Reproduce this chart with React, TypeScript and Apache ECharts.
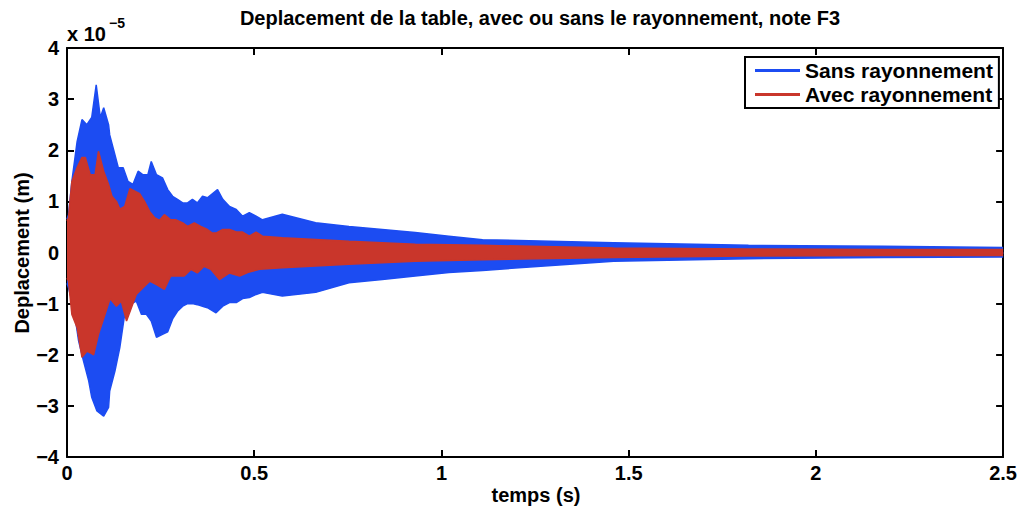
import React, { useEffect, useRef } from "react";
import * as echarts from "echarts";

// Values in units of 1e-5 m, envelopes
const tBlueUp = [0.000,0.004,0.013,0.027,0.040,0.053,0.066,0.078,0.089,0.098,0.111,0.114,0.123,0.137,0.150,0.163,0.176,0.190,0.203,0.216,0.225,0.239,0.255,0.269,0.282,0.295,0.309,0.322,0.335,0.348,0.362,0.375,0.402,0.416,0.434,0.452,0.469,0.487,0.505,0.522,0.575,0.664,0.753,0.842,0.930,1.020,1.110,1.460,1.820,2.180,2.500];
const blueUp = [0.65,0.74,1.39,2.17,2.60,2.50,2.64,3.28,2.64,2.83,2.50,2.30,2.05,1.66,1.66,1.39,1.33,1.59,1.52,1.52,1.78,1.52,1.46,1.23,1.10,1.04,0.97,0.97,1.04,0.97,1.10,1.07,1.23,1.04,0.90,0.84,0.71,0.78,0.71,0.64,0.75,0.58,0.51,0.45,0.39,0.32,0.25,0.19,0.14,0.12,0.10];

const tBlueLow = [0.000,0.004,0.018,0.031,0.044,0.058,0.066,0.080,0.098,0.111,0.114,0.128,0.141,0.154,0.168,0.185,0.199,0.212,0.225,0.239,0.255,0.269,0.282,0.295,0.309,0.322,0.335,0.348,0.362,0.375,0.398,0.416,0.434,0.452,0.469,0.487,0.505,0.522,0.575,0.664,0.753,0.842,0.930,1.020,1.110,1.460,1.820,2.180,2.500];
const blueLow = [-0.60,-0.69,-1.08,-1.73,-2.12,-2.51,-2.83,-3.10,-3.20,-3.03,-2.71,-2.32,-1.86,-1.21,-1.02,-0.95,-1.21,-1.21,-1.34,-1.66,-1.60,-1.55,-1.30,-1.15,-1.05,-1.00,-1.00,-1.02,-1.05,-1.08,-1.18,-1.05,-0.98,-0.98,-0.90,-0.88,-0.82,-0.78,-0.85,-0.78,-0.59,-0.53,-0.46,-0.39,-0.35,-0.17,-0.12,-0.10,-0.09];

const tRedUp = [0.000,0.004,0.013,0.027,0.040,0.049,0.062,0.075,0.084,0.098,0.111,0.120,0.132,0.141,0.154,0.168,0.181,0.194,0.207,0.221,0.234,0.247,0.260,0.277,0.290,0.309,0.322,0.340,0.357,0.375,0.388,0.398,0.416,0.434,0.452,0.469,0.487,0.505,0.522,0.575,0.753,0.930,1.110,1.460,1.820,2.180,2.500];
const redUp = [0.62,0.68,1.39,1.66,1.86,1.86,1.52,1.52,1.98,1.59,1.33,1.10,1.00,0.85,0.90,1.25,1.20,1.15,1.00,0.80,0.68,0.63,0.74,0.64,0.64,0.58,0.51,0.58,0.51,0.45,0.38,0.38,0.45,0.45,0.40,0.40,0.32,0.40,0.32,0.29,0.22,0.16,0.14,0.09,0.07,0.06,0.06];

const tRedLow = [0.000,0.004,0.013,0.027,0.040,0.053,0.062,0.071,0.084,0.102,0.115,0.132,0.145,0.159,0.172,0.185,0.203,0.221,0.239,0.260,0.277,0.295,0.313,0.331,0.348,0.366,0.384,0.407,0.434,0.461,0.487,0.514,0.575,0.753,0.930,1.110,1.460,1.820,2.180,2.500];
const redLow = [-0.50,-0.56,-1.21,-1.47,-2.05,-1.93,-1.96,-2.00,-1.60,-1.20,-0.90,-1.05,-0.95,-1.34,-1.08,-0.82,-0.69,-0.56,-0.63,-0.72,-0.46,-0.46,-0.46,-0.33,-0.40,-0.27,-0.33,-0.53,-0.40,-0.46,-0.38,-0.33,-0.30,-0.23,-0.17,-0.14,-0.10,-0.07,-0.06,-0.06];

const seriesNames = ["Sans rayonnement", "Avec rayonnement"];

const BLUE = "#1c4cf2";
const RED = "#c9362b";
const FONT = "Liberation Sans, Arial, Helvetica, sans-serif";

const zip = (t: number[], v: number[]) => t.map((x, i) => [x, v[i]]);

export default function App() {
  const ref = useRef<HTMLDivElement>(null);
  useEffect(() => {
    document.body.style.margin = "0";
    const chart = echarts.init(ref.current!, null, { renderer: "svg" });
    const band = (name: string, data: number[][], color: string, z: number) => ({
      name,
      type: "line",
      data,
      showSymbol: false,
      symbol: "none",
      z,
      lineStyle: { color, width: 1.5 },
      itemStyle: { color },
      areaStyle: { color, opacity: 1 },
      markLine: {
        silent: true,
        symbol: "none",
        label: { show: false },
        lineStyle: { color, width: 2, type: "solid" },
        data: [{ yAxis: 0 }],
      },
    });
    const axisCommon = {
      axisLine: { show: true, onZero: false, lineStyle: { color: "#000", width: 2 } },
      axisTick: { show: true, inside: true, length: 7, lineStyle: { color: "#000", width: 2 } },
      splitLine: { show: false },
    };
    const labelStyle = { color: "#000", fontFamily: FONT, fontWeight: "bold", fontSize: 20 };
    chart.setOption({
      animation: false,
      backgroundColor: "#fff",
      grid: { left: 67, right: 15, top: 48, bottom: 53, containLabel: false },
      xAxis: [
        {
          type: "value", min: 0, max: 2.5, interval: 0.5, position: "bottom",
          ...axisCommon,
          axisLabel: { ...labelStyle, margin: 6 },
        },
        {
          type: "value", min: 0, max: 2.5, interval: 0.5, position: "top",
          ...axisCommon,
          axisLabel: { show: false },
        },
      ],
      yAxis: [
        {
          type: "value", min: -4, max: 4, interval: 1, position: "left",
          ...axisCommon,
          axisLabel: {
            ...labelStyle, margin: 8,
            formatter: (v: number) => String(v).replace("-", "\u2212"),
          },
        },
        {
          type: "value", min: -4, max: 4, interval: 1, position: "right",
          ...axisCommon,
          axisLabel: { show: false },
        },
      ],
      legend: {
        data: seriesNames,
        orient: "vertical",
        left: 745,
        top: 57,
        padding: [3, 6, 3, 10],
        itemGap: 3,
        itemWidth: 45,
        itemHeight: 3,
        icon: "rect",
        backgroundColor: "#fff",
        borderColor: "#000",
        borderWidth: 2,
        textStyle: { color: "#000", fontFamily: FONT, fontWeight: "bold", fontSize: 21 },
      },
      series: [
        band(seriesNames[0], zip(tBlueUp, blueUp), BLUE, 2),
        band(seriesNames[0], zip(tBlueLow, blueLow), BLUE, 2),
        band(seriesNames[1], zip(tRedUp, redUp), RED, 3),
        band(seriesNames[1], zip(tRedLow, redLow), RED, 3),
      ],
      graphic: [
        {
          type: "text", x: 540, y: 18,
          style: {
            text: "Deplacement de la table, avec ou sans le rayonnement, note F3",
            fill: "#000", font: `bold 20px ${FONT}`, textAlign: "center", textVerticalAlign: "middle",
          },
        },
        {
          type: "text", x: 22, y: 253, rotation: Math.PI / 2,
          style: {
            text: "Deplacement (m)", fill: "#000", font: `bold 20px ${FONT}`,
            textAlign: "center", textVerticalAlign: "middle",
          },
        },
        {
          type: "text", x: 536, y: 495,
          style: {
            text: "temps (s)", fill: "#000", font: `bold 20px ${FONT}`,
            textAlign: "center", textVerticalAlign: "middle",
          },
        },
        {
          type: "text", x: 67, y: 34,
          style: { text: "x 10", fill: "#000", font: `bold 20px ${FONT}`, textAlign: "left", textVerticalAlign: "middle" },
        },
        {
          type: "text", x: 109, y: 23,
          style: { text: "\u22125", fill: "#000", font: `bold 14px ${FONT}`, textAlign: "left", textVerticalAlign: "middle" },
        },
      ],
    });
    return () => chart.dispose();
  }, []);
  return <div ref={ref} style={{ width: 1020, height: 510 }} />;
}
